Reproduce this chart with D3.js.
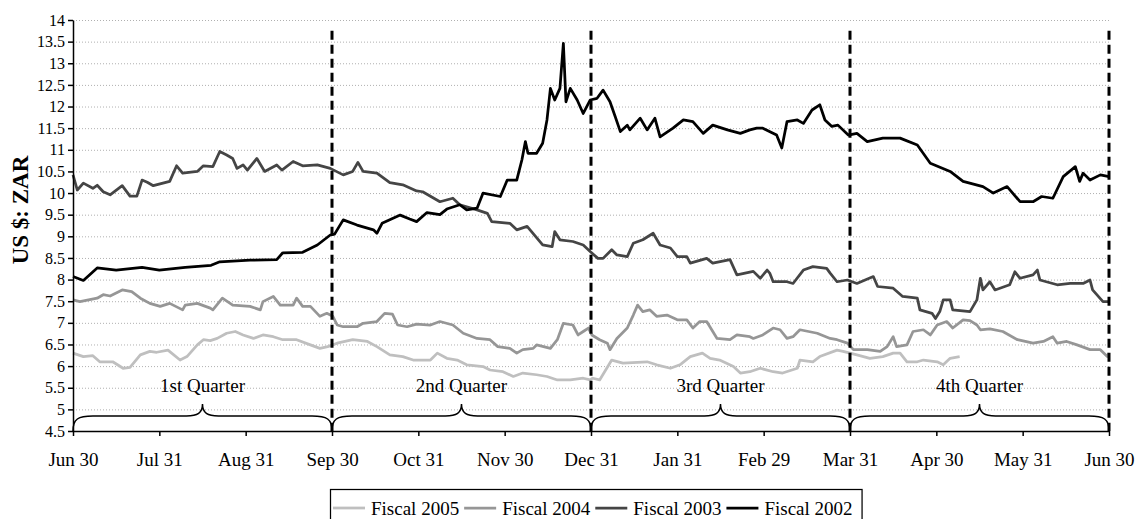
<!DOCTYPE html>
<html>
<head>
<meta charset="utf-8">
<script src="https://cdn.jsdelivr.net/npm/d3@7"></script>
<style>
	body { margin: 0; background: #fff; }
	text { font-family: "Liberation Serif", "Times New Roman", serif; fill: #000; }
	.grid line { stroke: #b0b0b0; stroke-dasharray: 1,2; }
	.axis path, .axis line { stroke: #000; stroke-width: 1.5; }
	.series { fill: none; stroke-width: 2.75; stroke-linejoin: round; }
	.quarter { stroke: #000; stroke-width: 3; stroke-dasharray: 9,5; }
	.brace { fill: none; stroke: #000; stroke-width: 1.5; }
</style>
</head>
<body>
<script>
// months after Jun 30 -> label
var monthLabels = ["Jun 30", "Jul 31", "Aug 31", "Sep 30", "Oct 31", "Nov 30", "Dec 31",
	"Jan 31", "Feb 29", "Mar 31", "Apr 30", "May 31", "Jun 30"]
var quarterLabels = ["1st Quarter", "2nd Quarter", "3rd Quarter", "4th Quarter"]
var yTicks = [4.5, 5, 5.5, 6, 6.5, 7, 7.5, 8, 8.5, 9, 9.5, 10, 10.5, 11, 11.5, 12, 12.5, 13, 13.5, 14]

var seriesNames  = ["Fiscal 2005", "Fiscal 2004", "Fiscal 2003", "Fiscal 2002"]
var seriesColors = ["#bfbfbf", "#969696", "#454545", "#000000"]

// [months since Jun 30, US$:ZAR]
var fiscal2005 = [[0,6.30],[0.12,6.22],[0.23,6.24],[0.31,6.10],[0.46,6.10],[0.58,5.95],[0.66,5.97],[0.78,6.26],[0.89,6.34],[0.97,6.32],
	[1.10,6.37],[1.24,6.14],[1.32,6.22],[1.44,6.49],[1.51,6.61],[1.59,6.59],[1.67,6.64],[1.78,6.76],[1.88,6.80],[1.97,6.72],
	[2.09,6.64],[2.20,6.72],[2.32,6.68],[2.43,6.61],[2.59,6.61],[2.75,6.49],[2.86,6.41],[2.95,6.45],[3.06,6.53],[3.24,6.61],
	[3.41,6.57],[3.52,6.45],[3.67,6.26],[3.82,6.22],[3.94,6.14],[4.14,6.14],[4.22,6.30],[4.33,6.18],[4.45,6.14],[4.56,6.03],
	[4.75,5.99],[4.83,5.91],[4.98,5.87],[5.10,5.76],[5.21,5.84],[5.37,5.80],[5.49,5.76],[5.61,5.68],[5.76,5.68],[5.91,5.72],
	[5.99,5.68],[6.02,5.72],[6.10,5.68],[6.24,6.14],[6.37,6.07],[6.65,6.10],[6.76,6.03],[6.92,5.95],[7.03,6.03],[7.15,6.22],
	[7.29,6.30],[7.38,6.18],[7.49,6.14],[7.65,5.99],[7.73,5.84],[7.84,5.87],[7.96,5.95],[8.11,5.87],[8.22,5.84],[8.39,5.95],
	[8.42,6.14],[8.57,6.10],[8.65,6.22],[8.85,6.37],[8.92,6.34],[9.08,6.26],[9.23,6.18],[9.38,6.22],[9.50,6.30],[9.58,6.30],
	[9.66,6.10],[9.78,6.10],[9.85,6.14],[10.01,6.10],[10.08,6.03],[10.16,6.18],[10.27,6.22]]

var fiscal2004 = [[0,7.53],[0.08,7.49],[0.28,7.57],[0.35,7.65],[0.43,7.62],[0.57,7.76],[0.68,7.72],[0.78,7.57],[0.89,7.45],[1.01,7.38],
	[1.12,7.45],[1.27,7.30],[1.30,7.41],[1.44,7.45],[1.59,7.34],[1.62,7.30],[1.73,7.57],[1.85,7.41],[2.05,7.38],[2.17,7.30],
	[2.20,7.49],[2.32,7.61],[2.40,7.41],[2.55,7.41],[2.59,7.57],[2.66,7.38],[2.75,7.38],[2.86,7.15],[2.94,7.22],[3.01,7.15],
	[3.06,6.95],[3.13,6.91],[3.29,6.91],[3.36,6.99],[3.52,7.03],[3.61,7.22],[3.70,7.20],[3.76,6.95],[3.87,6.91],[3.98,6.97],
	[4.14,6.95],[4.25,7.03],[4.40,6.95],[4.52,6.76],[4.68,6.64],[4.83,6.61],[4.92,6.45],[5.06,6.41],[5.14,6.30],[5.21,6.38],
	[5.33,6.41],[5.37,6.49],[5.53,6.41],[5.61,6.61],[5.68,6.99],[5.79,6.95],[5.85,6.72],[5.91,6.80],[5.97,6.88],[6.01,6.72],
	[6.10,6.61],[6.19,6.53],[6.22,6.38],[6.30,6.64],[6.42,6.88],[6.49,7.18],[6.54,7.41],[6.60,7.26],[6.68,7.30],[6.76,7.15],
	[6.88,7.18],[7.00,7.07],[7.11,7.07],[7.18,6.88],[7.26,7.03],[7.34,7.03],[7.46,6.64],[7.61,6.61],[7.69,6.72],[7.84,6.68],
	[7.88,6.64],[7.99,6.72],[8.11,6.88],[8.19,6.84],[8.27,6.64],[8.34,6.68],[8.42,6.84],[8.62,6.76],[8.77,6.64],[8.85,6.61],
	[8.97,6.53],[9.04,6.38],[9.20,6.38],[9.35,6.34],[9.43,6.45],[9.50,6.68],[9.54,6.45],[9.66,6.49],[9.73,6.80],[9.85,6.84],
	[9.93,6.72],[10.01,6.95],[10.12,7.03],[10.19,6.88],[10.31,7.07],[10.39,7.05],[10.47,6.95],[10.51,6.84],[10.62,6.86],[10.77,6.80],
	[10.94,6.61],[11.12,6.53],[11.24,6.57],[11.35,6.68],[11.40,6.53],[11.51,6.57],[11.63,6.49],[11.78,6.38],[11.90,6.38],[11.98,6.22],[12,6.30]]

var fiscal2003 = [[0,10.42],[0.05,10.07],[0.12,10.23],[0.23,10.11],[0.28,10.18],[0.35,10.03],[0.43,9.96],[0.57,10.17],[0.66,9.93],[0.74,9.93],
	[0.80,10.30],[0.86,10.25],[0.93,10.17],[1.12,10.27],[1.20,10.63],[1.27,10.46],[1.44,10.50],[1.51,10.63],[1.62,10.61],[1.70,10.96],
	[1.78,10.88],[1.85,10.80],[1.90,10.57],[1.97,10.65],[2.02,10.53],[2.13,10.80],[2.22,10.50],[2.36,10.65],[2.42,10.53],[2.55,10.73],
	[2.66,10.63],[2.83,10.65],[2.98,10.57],[3.13,10.42],[3.24,10.50],[3.30,10.71],[3.36,10.50],[3.52,10.46],[3.67,10.24],[3.82,10.19],
	[3.98,10.05],[4.05,10.03],[4.25,9.80],[4.40,9.88],[4.48,9.73],[4.68,9.61],[4.80,9.53],[4.85,9.34],[5.06,9.30],[5.14,9.15],
	[5.26,9.23],[5.44,8.80],[5.55,8.76],[5.58,9.11],[5.64,8.92],[5.79,8.88],[5.91,8.80],[5.99,8.65],[6.08,8.49],[6.14,8.49],
	[6.24,8.69],[6.30,8.57],[6.42,8.53],[6.49,8.84],[6.60,8.92],[6.72,9.07],[6.80,8.80],[6.92,8.73],[7.00,8.53],[7.11,8.53],
	[7.15,8.38],[7.34,8.49],[7.41,8.38],[7.61,8.46],[7.69,8.11],[7.88,8.19],[7.96,8.03],[8.04,8.22],[8.07,8.15],[8.11,7.95],
	[8.27,7.95],[8.34,7.91],[8.46,8.22],[8.57,8.30],[8.73,8.26],[8.77,8.15],[8.85,7.95],[8.97,7.99],[9.08,7.91],[9.27,8.07],
	[9.32,7.84],[9.50,7.80],[9.61,7.61],[9.78,7.57],[9.81,7.30],[9.95,7.22],[9.99,7.10],[10.04,7.26],[10.08,7.53],[10.16,7.53],
	[10.19,7.30],[10.39,7.26],[10.47,7.53],[10.51,8.03],[10.54,7.76],[10.62,7.95],[10.68,7.76],[10.85,7.88],[10.91,8.18],[10.97,8.03],
	[11.12,8.11],[11.17,8.22],[11.20,7.99],[11.40,7.88],[11.55,7.91],[11.70,7.91],[11.78,7.99],[11.81,7.76],[11.93,7.49],[12,7.49]]

var fiscal2002 = [[0,8.07],[0.12,7.98],[0.28,8.27],[0.5,8.22],[0.8,8.28],[1.0,8.22],[1.3,8.28],[1.6,8.33],[1.7,8.41],[2.05,8.45],
	[2.36,8.46],[2.43,8.62],[2.66,8.63],[2.83,8.80],[2.98,9.03],[3.03,9.05],[3.13,9.38],[3.29,9.26],[3.48,9.15],[3.52,9.07],
	[3.58,9.30],[3.79,9.49],[3.90,9.40],[3.98,9.34],[4.10,9.55],[4.25,9.50],[4.33,9.63],[4.48,9.73],[4.56,9.61],[4.68,9.65],
	[4.75,10.0],[4.95,9.92],[5.03,10.30],[5.14,10.30],[5.20,10.77],[5.24,11.19],[5.27,10.92],[5.37,10.92],[5.44,11.15],[5.49,11.69],
	[5.53,12.42],[5.58,12.15],[5.64,12.42],[5.68,13.46],[5.71,12.11],[5.76,12.42],[5.84,12.15],[5.91,11.84],[5.99,12.15],[6.07,12.19],
	[6.14,12.38],[6.22,12.11],[6.28,11.77],[6.34,11.42],[6.42,11.57],[6.45,11.46],[6.57,11.73],[6.65,11.46],[6.74,11.73],[6.80,11.30],
	[6.95,11.50],[7.07,11.69],[7.18,11.65],[7.30,11.38],[7.41,11.57],[7.58,11.46],[7.73,11.38],[7.84,11.46],[7.92,11.50],[7.99,11.50],
	[8.15,11.34],[8.21,11.04],[8.27,11.65],[8.39,11.69],[8.46,11.61],[8.56,11.92],[8.65,12.04],[8.71,11.69],[8.79,11.54],[8.86,11.57],
	[8.98,11.34],[9.08,11.38],[9.20,11.19],[9.38,11.27],[9.58,11.27],[9.78,11.11],[9.93,10.69],[10.16,10.50],[10.31,10.27],[10.54,10.15],
	[10.66,10.0],[10.82,10.15],[10.97,9.80],[11.12,9.80],[11.22,9.92],[11.35,9.88],[11.47,10.38],[11.61,10.61],[11.66,10.27],[11.70,10.46],
	[11.78,10.30],[11.90,10.42],[12,10.38]]

var seriesData = [fiscal2005, fiscal2004, fiscal2003, fiscal2002]

var svg = d3.select("body").append("svg")
	.attr("width", 1140)
	.attr("height", 519)

var x = d3.scaleLinear().domain([0, 12]).range([73, 1109])
var y = d3.scaleLinear().domain([4.5, 14]).range([431, 20])

// gridlines
svg.append("g")
	.attr("class", "grid")
	.selectAll("line")
	.data(yTicks.slice(1))
	.enter().append("line")
		.attr("x1", x(0))
		.attr("x2", x(12))
		.attr("y1", function(d){ return y(d) + 0.5 })
		.attr("y2", function(d){ return y(d) + 0.5 })

// series
var line = d3.line()
	.x(function(d){ return x(d[0]) })
	.y(function(d){ return y(d[1]) })

svg.append("g")
	.selectAll("path")
	.data(seriesData)
	.enter().append("path")
		.attr("class", "series")
		.attr("stroke", function(d, i){ return seriesColors[i] })
		.attr("d", line)

// quarter dividers
svg.append("g")
	.selectAll("line")
	.data([3, 6, 9, 12])
	.enter().append("line")
		.attr("class", "quarter")
		.attr("x1", function(d){ return x(d) })
		.attr("x2", function(d){ return x(d) })
		.attr("y1", y(13.75))
		.attr("y2", y(4.5))

// braces under each quarter
var base = y(4.5)
svg.append("g")
	.selectAll("path")
	.data([0, 1, 2, 3])
	.enter().append("path")
		.attr("class", "brace")
		.attr("d", function(q){
			var x0 = x(q * 3), x1 = x(q * 3 + 3), xm = (x0 + x1) / 2
			var h = base - 15, t = base - 27
			return "M" + x0 + "," + base +
				"C" + x0 + "," + (h + 3) + " " + (x0 + 5) + "," + h + " " + (x0 + 20) + "," + h +
				"L" + (xm - 16) + "," + h +
				"C" + (xm - 5) + "," + h + " " + xm + "," + (h - 3) + " " + xm + "," + t +
				"C" + xm + "," + (h - 3) + " " + (xm + 5) + "," + h + " " + (xm + 16) + "," + h +
				"L" + (x1 - 20) + "," + h +
				"C" + (x1 - 5) + "," + h + " " + x1 + "," + (h + 3) + " " + x1 + "," + base
		})

svg.append("g")
	.selectAll("text")
	.data(quarterLabels)
	.enter().append("text")
		.attr("x", function(d, i){ return x(i * 3 + 1.5) })
		.attr("y", base - 39)
		.attr("text-anchor", "middle")
		.style("font-size", "19px")
		.text(function(d){ return d })

// axes
var xAxis = svg.append("g")
	.attr("class", "axis")
	.attr("transform", "translate(0," + base + ")")
	.call(d3.axisBottom(x)
		.tickValues(d3.range(0, 13))
		.tickSize(5)
		.tickSizeOuter(0)
		.tickFormat(function(d){ return monthLabels[d] }))
xAxis.selectAll("text")
	.attr("dy", null)
	.attr("y", 35)
	.style("font-size", "19px")
	.style("font-family", "Liberation Serif")

var yAxis = svg.append("g")
	.attr("class", "axis")
	.attr("transform", "translate(" + x(0) + ",0)")
	.call(d3.axisLeft(y)
		.tickValues(yTicks)
		.tickSize(5)
		.tickSizeOuter(0)
		.tickFormat(d3.format("~g")))
yAxis.selectAll("text")
	.attr("x", -8)
	.style("font-size", "16px")
	.style("font-family", "Liberation Serif")

svg.append("text")
	.attr("transform", "translate(28," + 210 + ") rotate(-90)")
	.attr("text-anchor", "middle")
	.style("font-size", "23px")
	.style("font-weight", "bold")
	.text("US $: ZAR")

// legend
var legend = svg.append("g")
var lx = 333
seriesNames.forEach(function(name, i){
	legend.append("line")
		.attr("x1", lx).attr("x2", lx + 32)
		.attr("y1", 508).attr("y2", 508)
		.attr("stroke", seriesColors[i])
		.attr("stroke-width", 2.75)
	var t = legend.append("text")
		.attr("x", lx + 38)
		.attr("y", 515)
		.style("font-size", "19px")
		.text(name)
	lx += 38 + t.node().getComputedTextLength() + 5
})
legend.insert("rect", ":first-child")
	.attr("x", 330.5)
	.attr("y", 489.5)
	.attr("width", lx - 330 + 4)
	.attr("height", 40)
	.attr("fill", "#fff")
	.attr("stroke", "#000")
	.attr("stroke-width", 1.25)
</script>
</body>
</html>
